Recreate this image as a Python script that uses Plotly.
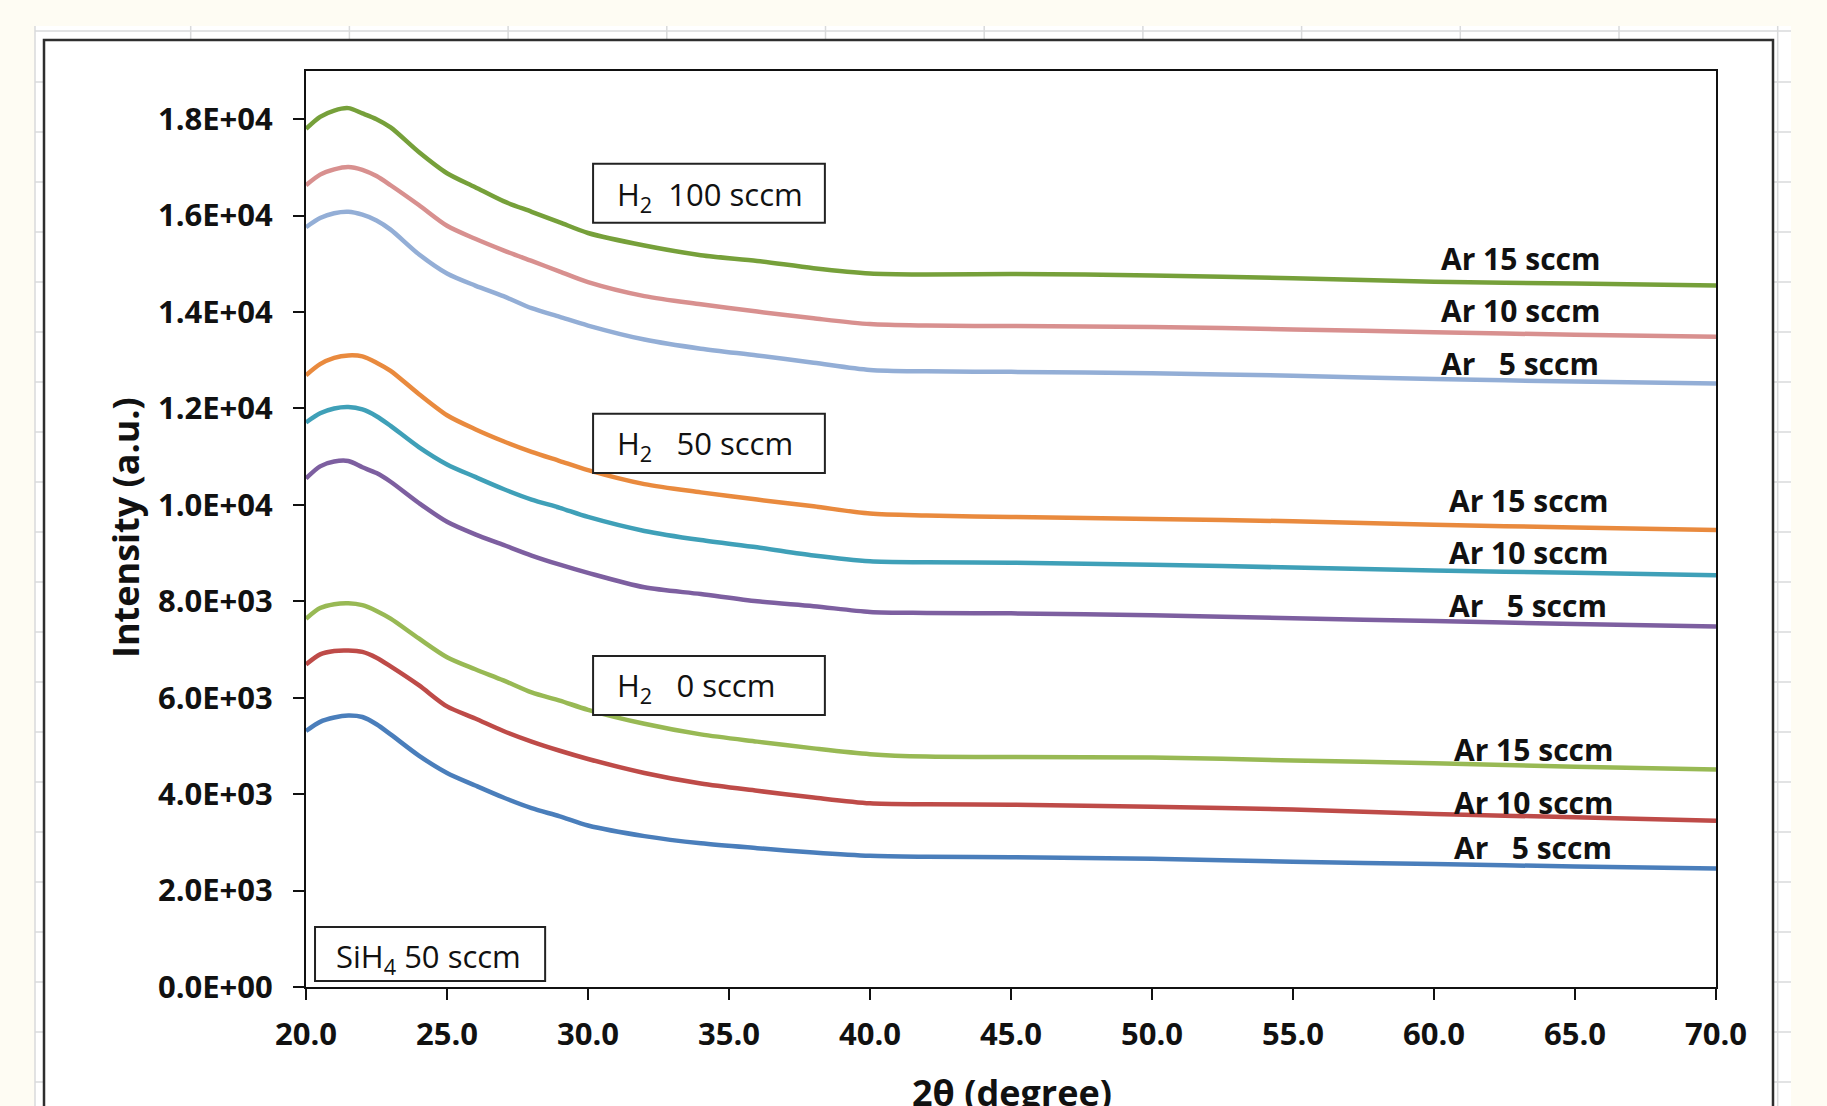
import plotly.graph_objects as go

# ---------------- data ----------------
two_theta = [20, 20.5, 21, 21.5, 22, 22.5, 23, 24, 25, 26, 27, 28, 29, 30,
             32, 34, 36, 38, 40, 42, 45, 50, 55, 60, 65, 70]

h100_ar15 = [17800, 18050, 18180, 18230, 18120, 18000, 17830, 17320, 16880, 16590, 16300, 16080, 15860, 15640,
             15380, 15180, 15060, 14910, 14800, 14780, 14790, 14760, 14700, 14630, 14590, 14550]
h100_ar10 = [16630, 16850, 16960, 17010, 16950, 16820, 16630, 16220, 15790, 15520, 15280, 15060, 14840, 14620,
             14330, 14160, 14010, 13870, 13750, 13720, 13710, 13690, 13640, 13580, 13530, 13490]
h100_ar5 = [15760, 15950, 16050, 16080, 16020, 15900, 15710, 15200, 14800, 14550, 14330, 14080, 13900, 13720,
            13430, 13240, 13100, 12950, 12800, 12770, 12760, 12730, 12680, 12610, 12560, 12520]
h50_ar15 = [12690, 12920, 13050, 13100, 13080, 12950, 12780, 12300, 11860, 11570, 11320, 11100, 10910, 10720,
            10430, 10260, 10110, 9970, 9820, 9780, 9750, 9710, 9660, 9590, 9530, 9480]
h50_ar10 = [11710, 11900, 12000, 12030, 11980, 11840, 11640, 11200, 10840, 10580, 10330, 10110, 9940, 9750,
            9460, 9270, 9120, 8950, 8830, 8810, 8800, 8760, 8700, 8640, 8590, 8540]
h50_ar5 = [10550, 10800, 10900, 10910, 10780, 10660, 10480, 10040, 9650, 9390, 9170, 8950, 8760, 8590,
           8290, 8150, 8000, 7900, 7780, 7760, 7750, 7710, 7650, 7590, 7530, 7480]
h0_ar15 = [7640, 7860, 7940, 7960, 7920, 7800, 7640, 7230, 6840, 6590, 6360, 6110, 5940, 5750,
           5460, 5240, 5090, 4950, 4830, 4780, 4770, 4760, 4700, 4640, 4570, 4510]
h0_ar10 = [6690, 6900, 6970, 6980, 6950, 6830, 6650, 6260, 5820, 5570, 5310, 5090, 4900, 4730,
           4440, 4220, 4070, 3930, 3810, 3790, 3780, 3740, 3680, 3590, 3520, 3450]
h0_ar5 = [5310, 5500, 5590, 5630, 5600, 5450, 5240, 4800, 4440, 4180, 3930, 3710, 3540, 3350,
          3130, 2980, 2880, 2790, 2720, 2700, 2690, 2660, 2600, 2550, 2500, 2460]

series_names = ["H2 0 sccm, Ar 5 sccm", "H2 0 sccm, Ar 10 sccm", "H2 0 sccm, Ar 15 sccm",
                "H2 50 sccm, Ar 5 sccm", "H2 50 sccm, Ar 10 sccm", "H2 50 sccm, Ar 15 sccm",
                "H2 100 sccm, Ar 5 sccm", "H2 100 sccm, Ar 10 sccm", "H2 100 sccm, Ar 15 sccm"]
series_values = [h0_ar5, h0_ar10, h0_ar15, h50_ar5, h50_ar10, h50_ar15, h100_ar5, h100_ar10, h100_ar15]

x_ticks = [20, 25, 30, 35, 40, 45, 50, 55, 60, 65, 70]
y_ticks = [0, 2000, 4000, 6000, 8000, 10000, 12000, 14000, 16000, 18000]

ar_labels = ["Ar\u00a0\u00a0\u00a05\u00a0sccm", "Ar 10 sccm", "Ar 15 sccm"]
group_labels = ["H<sub>2</sub>\u00a0\u00a0\u00a00 sccm", "H<sub>2</sub>\u00a0\u00a0\u00a050 sccm",
                "H<sub>2</sub>\u00a0\u00a0100 sccm"]
sih4_label = "SiH<sub>4</sub> 50 sccm"

# ---------------- styles ----------------
colors = ["#4A7EBB", "#BE4B48", "#98B954",
          "#7D5FA0", "#3FA0B8", "#E98A3E",
          "#93AED6", "#D8908F", "#76A03A"]
FONT = "Open Sans"

W, H = 1827, 1106
L, R, T, B = 306, 1716, 71, 987


def px(x):
    return (x - L) / (R - L)


def py(y):
    return (B - y) / (B - T)


fig = go.Figure()
for name, vals, col in zip(series_names, series_values, colors):
    fig.add_trace(go.Scatter(x=two_theta, y=vals, mode="lines", name=name,
                             line=dict(color=col, width=4.5, shape="spline", smoothing=0.8),
                             showlegend=False))

shapes = []
# spreadsheet-like backdrop
shapes.append(dict(type="rect", xref="paper", yref="paper", x0=px(35), x1=px(1791), y0=py(1110), y1=py(26),
                   fillcolor="white", line=dict(width=0), layer="below"))
yy = 31
while yy < 1106:
    shapes.append(dict(type="line", xref="paper", yref="paper", x0=px(35), x1=px(1791), y0=py(yy), y1=py(yy),
                       line=dict(color="#D9DADB", width=1.5), layer="below"))
    yy = 82 if yy == 31 else yy + 50
xx = 35.0
while xx < 1795:
    shapes.append(dict(type="line", xref="paper", yref="paper", x0=px(xx), x1=px(xx), y0=py(26), y1=py(1110),
                       line=dict(color="#D9DADB", width=1.5), layer="below"))
    xx = 190.7 if xx == 35.0 else xx + 158.7
# chart object
shapes.append(dict(type="rect", xref="paper", yref="paper", x0=px(44), x1=px(1773), y0=py(1120), y1=py(40),
                   fillcolor="white", line=dict(color="#2E2E2E", width=2.5), layer="below"))

# label boxes (data coords)
boxes = [(30.18, 38.40, 15851, 17075), (30.18, 38.40, 10664, 11888), (30.18, 38.40, 5643, 6867),
         (20.32, 28.48, 124, 1245)]
for x0, x1, y0, y1 in boxes:
    shapes.append(dict(type="rect", xref="x", yref="y", x0=x0, x1=x1, y0=y0, y1=y1,
                       fillcolor="white", line=dict(color="#222222", width=2), layer="above"))

annotations = []
box_text_pos = [(30.96, 6224), (30.96, 11245), (30.96, 16411)]
for txt, (ax, ay) in zip(group_labels, box_text_pos):
    annotations.append(dict(x=ax, y=ay, xref="x", yref="y", text=txt, showarrow=False,
                            xanchor="left", yanchor="middle",
                            font=dict(family=FONT, size=31, color="#111111")))
annotations.append(dict(x=20.99, y=602, xref="x", yref="y", text=sih4_label, showarrow=False,
                        xanchor="left", yanchor="middle", font=dict(family=FONT, size=31, color="#111111")))

ar_pos = [[(60.64, 2884), (60.64, 3817), (60.64, 4917)],
          [(60.46, 7905), (60.46, 9004), (60.46, 10083)],
          [(60.18, 12925), (60.18, 14025), (60.18, 15104)]]
for grp in ar_pos:
    for txt, (ax, ay) in zip(ar_labels, grp):
        annotations.append(dict(x=ax, y=ay, xref="x", yref="y", text=txt, showarrow=False,
                                xanchor="left", yanchor="middle",
                                font=dict(family=FONT, size=30, color="#111111", weight="bold")))

annotations.append(dict(x=px(125), y=py(528), xref="paper", yref="paper", text="Intensity (a.u.)",
                        showarrow=False, textangle=-90, xanchor="center", yanchor="middle",
                        font=dict(family=FONT, size=36, color="#111111", weight="bold")))
annotations.append(dict(x=px(1012), y=py(1092), xref="paper", yref="paper", text="2θ (degree)",
                        showarrow=False, xanchor="center", yanchor="middle",
                        font=dict(family=FONT, size=36, color="#111111", weight="bold")))

tickfont = dict(family=FONT, size=31, color="#111111", weight="bold")
fig.update_layout(
    width=W, height=H,
    margin=dict(l=L, r=W - R, t=T, b=H - B, autoexpand=False),
    paper_bgcolor="#FEFCF3", plot_bgcolor="rgba(0,0,0,0)",
    shapes=shapes, annotations=annotations,
    xaxis=dict(range=[20, 70], tickmode="array", tickvals=x_ticks,
               ticktext=[f"{v:.1f}" for v in x_ticks], ticks="outside", ticklen=11, tickwidth=2,
               tickcolor="#111111", showline=True, linecolor="#111111", linewidth=2, mirror=True,
               showgrid=False, zeroline=False, tickfont=tickfont, ticklabelstandoff=8),
    yaxis=dict(range=[0, 19000], tickmode="array", tickvals=y_ticks,
               ticktext=[f"{v:.1E}" for v in y_ticks], ticks="outside", ticklen=11, tickwidth=2,
               tickcolor="#111111", showline=True, linecolor="#111111", linewidth=2, mirror=True,
               showgrid=False, zeroline=False, tickfont=tickfont, ticklabelstandoff=14),
)

fig.write_html("out.html")
